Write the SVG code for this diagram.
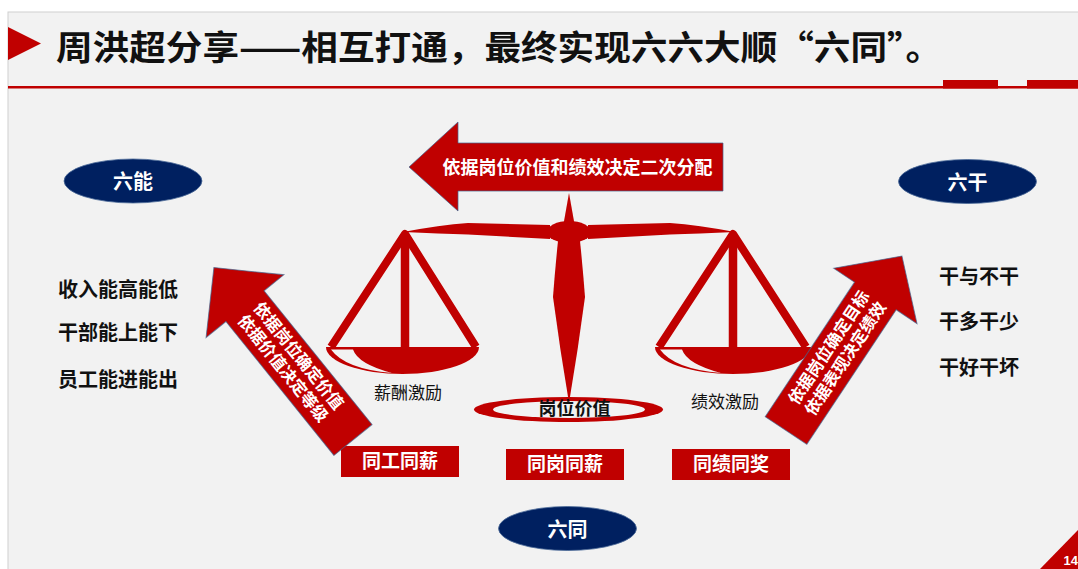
<svg xmlns="http://www.w3.org/2000/svg" width="1078" height="569" viewBox="0 0 1078 569">
  <style>
    .cn { font-family: "Liberation Sans", "Noto Sans CJK SC", sans-serif; }
    .cjk { font-family: "Noto Sans CJK SC", "Liberation Sans", sans-serif; }
    .b { font-weight: bold; }
    .red { fill: #c00000; }
    .arrow { fill: #c00000; stroke: #41648f; stroke-width: 1; stroke-opacity: 0.7; }
    .oval { fill: #002060; stroke: #4a6a98; stroke-width: 0.8; }
    .oval-t { fill: #ffffff; font-size: 20px; font-weight: bold; }
    .list { fill: #111111; font-size: 20px; font-weight: bold; }
    .box-t { fill: #ffffff; font-size: 19px; font-weight: bold; }
    .arr-t { fill: #ffffff; font-weight: bold; }
    .pan-t { fill: #111111; font-size: 17px; }
  </style>

  <!-- page -->
  <rect x="0" y="0" width="1078" height="569" fill="#ffffff"/>
  <rect x="8" y="12" width="1075" height="562" fill="#f2f2f2" stroke="#cfcfcf" stroke-width="1"/>

  <!-- header -->
  <g id="header">
    <polygon points="8,27 41,43.5 8,60" class="red"/>
    <text class="cjk b" x="56" y="45" dominant-baseline="central" font-size="34" fill="#111111" textLength="886" lengthAdjust="spacingAndGlyphs">周洪超分享——相互打通，最终实现六六大顺“六同”。</text>
    <rect x="8" y="86" width="1070" height="2.5" class="red"/>
    <rect x="943" y="80" width="55" height="8.5" class="red"/>
    <rect x="1027" y="80" width="51" height="8.5" class="red"/>
  </g>

  <!-- oval headings -->
  <g id="node-liuneng">
    <ellipse cx="133" cy="181" rx="69" ry="22" class="oval"/>
    <text class="cn oval-t" x="133" y="182" text-anchor="middle" dominant-baseline="central">六能</text>
  </g>
  <g id="node-liugan">
    <ellipse cx="967.5" cy="181.5" rx="69" ry="22" class="oval"/>
    <text class="cn oval-t" x="967.5" y="182.5" text-anchor="middle" dominant-baseline="central">六干</text>
  </g>
  <g id="node-liutong">
    <ellipse cx="567.5" cy="528.5" rx="69" ry="22" class="oval"/>
    <text class="cn oval-t" x="567.5" y="529.5" text-anchor="middle" dominant-baseline="central">六同</text>
  </g>

  <!-- side lists -->
  <g id="node-left-list" class="cn list">
    <text x="58" y="290" dominant-baseline="central">收入能高能低</text>
    <text x="58" y="333" dominant-baseline="central">干部能上能下</text>
    <text x="58" y="380" dominant-baseline="central">员工能进能出</text>
  </g>
  <g id="node-right-list" class="cn list">
    <text x="939" y="277" dominant-baseline="central">干与不干</text>
    <text x="939" y="322" dominant-baseline="central">干多干少</text>
    <text x="939" y="368" dominant-baseline="central">干好干坏</text>
  </g>

  <!-- balance scale -->
  <g id="node-scale">
    <!-- base ring -->
    <ellipse cx="568.5" cy="409.5" rx="94.5" ry="12.5" class="red"/>
    <ellipse cx="569" cy="409.5" rx="76" ry="8.5" fill="#f2f2f2"/>
    <!-- pillar -->
    <path d="M558,241 L580,241 Q583,270 585,297 Q578,350 569,403 Q560,350 553,297 Q555,270 558,241 Z" class="red"/>
    <!-- top spike -->
    <polygon points="569,193 563.5,224 574.5,224" class="red"/>
    <!-- beam -->
    <path d="M403,232 Q440,225 468,223 L550,225 L550,239 L468,234.5 Q440,233.5 403,232 Z" class="red"/>
    <path d="M735,232 Q698,225 670,223 L588,225 L588,239 L670,234.5 Q698,233.5 735,232 Z" class="red"/>
    <!-- hub -->
    <ellipse cx="569" cy="232" rx="22" ry="11" class="red"/>

    <!-- left pan -->
    <path d="M331,347 L405,234 L476,347" fill="none" stroke="#c00000" stroke-width="8" stroke-linejoin="round"/>
    <line x1="405" y1="234" x2="405" y2="348" stroke="#c00000" stroke-width="8.5"/>
    <path d="M326,347 L479,347 A76.5,27 0 0 1 326,347 Z" class="red"/>
    <path d="M331,349.5 Q345,369 392,373 Q358,364 353,349.5 Z" fill="#f2f2f2"/>

    <!-- right pan -->
    <path d="M659,347 L733,234 L806,347" fill="none" stroke="#c00000" stroke-width="8" stroke-linejoin="round"/>
    <line x1="733" y1="234" x2="733" y2="348" stroke="#c00000" stroke-width="8.5"/>
    <path d="M655,347 L811,347 A78,27 0 0 1 655,347 Z" class="red"/>
    <path d="M660,349.5 Q674,369 721,373 Q687,364 682,349.5 Z" fill="#f2f2f2"/>

    <!-- labels -->
    <text class="cn pan-t" x="408" y="393" text-anchor="middle" dominant-baseline="central">薪酬激励</text>
    <text class="cn pan-t" x="725" y="402" text-anchor="middle" dominant-baseline="central">绩效激励</text>
    <text class="cn b" x="574.5" y="409" font-size="18" fill="#111111" text-anchor="middle" dominant-baseline="central">岗位价值</text>
  </g>

  <!-- bottom tags -->
  <g id="node-tag-1">
    <rect x="341" y="446" width="118" height="31" class="red"/>
    <text class="cn box-t" x="400" y="461.5" text-anchor="middle" dominant-baseline="central">同工同薪</text>
  </g>
  <g id="node-tag-2">
    <rect x="506" y="449" width="118" height="31" class="red"/>
    <text class="cn box-t" x="565" y="464.5" text-anchor="middle" dominant-baseline="central">同岗同薪</text>
  </g>
  <g id="node-tag-3">
    <rect x="672" y="449" width="118" height="31" class="red"/>
    <text class="cn box-t" x="731" y="464.5" text-anchor="middle" dominant-baseline="central">同绩同奖</text>
  </g>

  <!-- block arrows -->
  <g id="connectors">
    <g id="arrow-top">
      <polygon points="409,167 458,122 458,143 723,143 723,191 458,191 458,211" class="arrow"/>
      <text class="cn arr-t" x="577.5" y="168" font-size="18" text-anchor="middle" dominant-baseline="central">依据岗位价值和绩效决定二次分配</text>
    </g>
    <g id="arrow-left">
      <polygon transform="translate(353,440) rotate(-128.9)" points="0,-24.5 172,-24.5 172,-50 221.5,0 172,50 172,24.5 0,24.5" class="arrow"/>
      <g transform="translate(291,362) rotate(51.1)" class="cn arr-t" font-size="16.5" text-anchor="middle">
        <text x="0" y="-10" dominant-baseline="central">依据岗位确定价值</text>
        <text x="0" y="10" dominant-baseline="central">依据价值决定等级</text>
      </g>
    </g>
    <g id="arrow-right">
      <polygon transform="translate(786,430.5) rotate(-56.4)" points="0,-25 161.5,-25 161.5,-50 209.5,0 161.5,50 161.5,25 0,25" class="arrow"/>
      <g transform="translate(837,353) rotate(-56.4)" class="cn arr-t" font-size="16.5" text-anchor="middle">
        <text x="0" y="-10" dominant-baseline="central">依据岗位确定目标</text>
        <text x="0" y="10" dominant-baseline="central">依据表现决定绩效</text>
      </g>
    </g>
  </g>

  <!-- page number corner -->
  <g id="page-number">
    <polygon points="1040,569 1078,530 1078,569" class="red"/>
    <text x="1078" y="560" font-family="Liberation Sans, sans-serif" font-size="13" font-weight="bold" fill="#ffffff" text-anchor="end" dominant-baseline="central">14</text>
  </g>
</svg>
